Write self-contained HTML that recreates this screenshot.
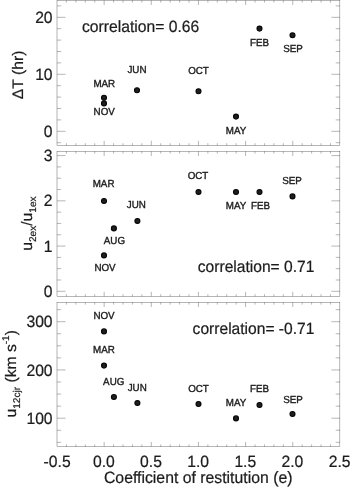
<!DOCTYPE html>
<html><head><meta charset="utf-8"><title>Correlation plots</title>
<style>
html,body{margin:0;padding:0;background:#fff;}
body{width:350px;height:487px;overflow:hidden;}
#wrap{width:350px;height:487px;will-change:transform;}
svg{display:block;}
text{text-rendering:geometricPrecision;font-family:"Liberation Sans",Arial,Helvetica,sans-serif;fill:#1c1c1c;stroke:#1c1c1c;stroke-width:0.22px;}
.t15{font-size:15.7px;}
.lab{font-size:9.8px;text-anchor:middle;stroke-width:0.36px;}
.yt{font-size:15.7px;text-anchor:end;}
.xt{font-size:15.7px;text-anchor:middle;}
.fr{fill:none;stroke:#000;stroke-width:0.29;}
.tk{fill:none;stroke:#000;stroke-width:0.29;}
.dot{fill:#1e1e1e;stroke:#060606;stroke-width:1.1px;}
</style></head><body><div id="wrap">
<svg width="350" height="487" viewBox="0 0 350 487">
<rect class="fr" x="57.0" y="0.4" width="282.90" height="145.00"/>
<path class="tk" d="M66.43 145.4v-2.2M66.43 0.4v2.2M75.86 145.4v-2.2M75.86 0.4v2.2M85.29 145.4v-2.2M85.29 0.4v2.2M94.72 145.4v-2.2M94.72 0.4v2.2M104.15 145.4v-4.6M104.15 0.4v4.6M113.58 145.4v-2.2M113.58 0.4v2.2M123.01 145.4v-2.2M123.01 0.4v2.2M132.44 145.4v-2.2M132.44 0.4v2.2M141.87 145.4v-2.2M141.87 0.4v2.2M151.30 145.4v-4.6M151.30 0.4v4.6M160.73 145.4v-2.2M160.73 0.4v2.2M170.16 145.4v-2.2M170.16 0.4v2.2M179.59 145.4v-2.2M179.59 0.4v2.2M189.02 145.4v-2.2M189.02 0.4v2.2M198.45 145.4v-4.6M198.45 0.4v4.6M207.88 145.4v-2.2M207.88 0.4v2.2M217.31 145.4v-2.2M217.31 0.4v2.2M226.74 145.4v-2.2M226.74 0.4v2.2M236.17 145.4v-2.2M236.17 0.4v2.2M245.60 145.4v-4.6M245.60 0.4v4.6M255.03 145.4v-2.2M255.03 0.4v2.2M264.46 145.4v-2.2M264.46 0.4v2.2M273.89 145.4v-2.2M273.89 0.4v2.2M283.32 145.4v-2.2M283.32 0.4v2.2M292.75 145.4v-4.6M292.75 0.4v4.6M302.18 145.4v-2.2M302.18 0.4v2.2M311.61 145.4v-2.2M311.61 0.4v2.2M321.04 145.4v-2.2M321.04 0.4v2.2M330.47 145.4v-2.2M330.47 0.4v2.2M57.0 131.30h8.5M339.9 131.30h-8.5M57.0 74.30h8.5M339.9 74.30h-8.5M57.0 17.30h8.5M339.9 17.30h-8.5M57.0 142.70h4.2M339.9 142.70h-4.2M57.0 119.90h4.2M339.9 119.90h-4.2M57.0 108.50h4.2M339.9 108.50h-4.2M57.0 97.10h4.2M339.9 97.10h-4.2M57.0 85.70h4.2M339.9 85.70h-4.2M57.0 62.90h4.2M339.9 62.90h-4.2M57.0 51.50h4.2M339.9 51.50h-4.2M57.0 40.10h4.2M339.9 40.10h-4.2M57.0 28.70h4.2M339.9 28.70h-4.2M57.0 5.90h4.2M339.9 5.90h-4.2"/>
<text class="yt" transform="translate(52.6,136.9) scale(1,1.04)">0</text>
<text class="yt" transform="translate(52.6,79.9) scale(1,1.04)">10</text>
<text class="yt" transform="translate(52.6,22.9) scale(1,1.04)">20</text>
<rect class="fr" x="57.0" y="151.4" width="282.90" height="145.00"/>
<path class="tk" d="M66.43 296.4v-2.2M66.43 151.4v2.2M75.86 296.4v-2.2M75.86 151.4v2.2M85.29 296.4v-2.2M85.29 151.4v2.2M94.72 296.4v-2.2M94.72 151.4v2.2M104.15 296.4v-4.6M104.15 151.4v4.6M113.58 296.4v-2.2M113.58 151.4v2.2M123.01 296.4v-2.2M123.01 151.4v2.2M132.44 296.4v-2.2M132.44 151.4v2.2M141.87 296.4v-2.2M141.87 151.4v2.2M151.30 296.4v-4.6M151.30 151.4v4.6M160.73 296.4v-2.2M160.73 151.4v2.2M170.16 296.4v-2.2M170.16 151.4v2.2M179.59 296.4v-2.2M179.59 151.4v2.2M189.02 296.4v-2.2M189.02 151.4v2.2M198.45 296.4v-4.6M198.45 151.4v4.6M207.88 296.4v-2.2M207.88 151.4v2.2M217.31 296.4v-2.2M217.31 151.4v2.2M226.74 296.4v-2.2M226.74 151.4v2.2M236.17 296.4v-2.2M236.17 151.4v2.2M245.60 296.4v-4.6M245.60 151.4v4.6M255.03 296.4v-2.2M255.03 151.4v2.2M264.46 296.4v-2.2M264.46 151.4v2.2M273.89 296.4v-2.2M273.89 151.4v2.2M283.32 296.4v-2.2M283.32 151.4v2.2M292.75 296.4v-4.6M292.75 151.4v4.6M302.18 296.4v-2.2M302.18 151.4v2.2M311.61 296.4v-2.2M311.61 151.4v2.2M321.04 296.4v-2.2M321.04 151.4v2.2M330.47 296.4v-2.2M330.47 151.4v2.2M57.0 291.30h8.5M339.9 291.30h-8.5M57.0 246.07h8.5M339.9 246.07h-8.5M57.0 200.83h8.5M339.9 200.83h-8.5M57.0 155.60h8.5M339.9 155.60h-8.5M57.0 279.99h4.2M339.9 279.99h-4.2M57.0 268.68h4.2M339.9 268.68h-4.2M57.0 257.38h4.2M339.9 257.38h-4.2M57.0 234.76h4.2M339.9 234.76h-4.2M57.0 223.45h4.2M339.9 223.45h-4.2M57.0 212.14h4.2M339.9 212.14h-4.2M57.0 189.52h4.2M339.9 189.52h-4.2M57.0 178.22h4.2M339.9 178.22h-4.2M57.0 166.91h4.2M339.9 166.91h-4.2"/>
<text class="yt" transform="translate(52.6,296.9) scale(1,1.04)">0</text>
<text class="yt" transform="translate(52.6,251.7) scale(1,1.04)">1</text>
<text class="yt" transform="translate(52.6,206.4) scale(1,1.04)">2</text>
<text class="yt" transform="translate(52.6,161.2) scale(1,1.04)">3</text>
<rect class="fr" x="57.0" y="302.4" width="282.90" height="144.20"/>
<path class="tk" d="M66.43 446.6v-2.2M66.43 302.4v2.2M75.86 446.6v-2.2M75.86 302.4v2.2M85.29 446.6v-2.2M85.29 302.4v2.2M94.72 446.6v-2.2M94.72 302.4v2.2M104.15 446.6v-4.6M104.15 302.4v4.6M113.58 446.6v-2.2M113.58 302.4v2.2M123.01 446.6v-2.2M123.01 302.4v2.2M132.44 446.6v-2.2M132.44 302.4v2.2M141.87 446.6v-2.2M141.87 302.4v2.2M151.30 446.6v-4.6M151.30 302.4v4.6M160.73 446.6v-2.2M160.73 302.4v2.2M170.16 446.6v-2.2M170.16 302.4v2.2M179.59 446.6v-2.2M179.59 302.4v2.2M189.02 446.6v-2.2M189.02 302.4v2.2M198.45 446.6v-4.6M198.45 302.4v4.6M207.88 446.6v-2.2M207.88 302.4v2.2M217.31 446.6v-2.2M217.31 302.4v2.2M226.74 446.6v-2.2M226.74 302.4v2.2M236.17 446.6v-2.2M236.17 302.4v2.2M245.60 446.6v-4.6M245.60 302.4v4.6M255.03 446.6v-2.2M255.03 302.4v2.2M264.46 446.6v-2.2M264.46 302.4v2.2M273.89 446.6v-2.2M273.89 302.4v2.2M283.32 446.6v-2.2M283.32 302.4v2.2M292.75 446.6v-4.6M292.75 302.4v4.6M302.18 446.6v-2.2M302.18 302.4v2.2M311.61 446.6v-2.2M311.61 302.4v2.2M321.04 446.6v-2.2M321.04 302.4v2.2M330.47 446.6v-2.2M330.47 302.4v2.2M57.0 418.20h8.5M339.9 418.20h-8.5M57.0 369.95h8.5M339.9 369.95h-8.5M57.0 321.70h8.5M339.9 321.70h-8.5M57.0 442.32h4.2M339.9 442.32h-4.2M57.0 430.26h4.2M339.9 430.26h-4.2M57.0 406.14h4.2M339.9 406.14h-4.2M57.0 394.07h4.2M339.9 394.07h-4.2M57.0 382.01h4.2M339.9 382.01h-4.2M57.0 357.89h4.2M339.9 357.89h-4.2M57.0 345.82h4.2M339.9 345.82h-4.2M57.0 333.76h4.2M339.9 333.76h-4.2M57.0 309.64h4.2M339.9 309.64h-4.2"/>
<text class="yt" transform="translate(52.6,423.8) scale(1,1.04)">100</text>
<text class="yt" transform="translate(52.6,375.6) scale(1,1.04)">200</text>
<text class="yt" transform="translate(52.6,327.3) scale(1,1.04)">300</text>
<text class="xt" transform="translate(57.1,467.3) scale(1,1.04)">-0.5</text>
<text class="xt" transform="translate(103.9,467.3) scale(1,1.04)">0.0</text>
<text class="xt" transform="translate(151.0,467.3) scale(1,1.04)">0.5</text>
<text class="xt" transform="translate(198.1,467.3) scale(1,1.04)">1.0</text>
<text class="xt" transform="translate(245.3,467.3) scale(1,1.04)">1.5</text>
<text class="xt" transform="translate(292.4,467.3) scale(1,1.04)">2.0</text>
<text class="xt" transform="translate(339.6,467.3) scale(1,1.04)">2.5</text>
<text class="t15" transform="translate(198.2,483.4) scale(1,1.04)" text-anchor="middle" style="font-size:15.8px">Coefficient of restitution (e)</text>
<text class="t15" transform="translate(23.4,74.9) rotate(-90) scale(1,0.97)" text-anchor="middle">ΔT (hr)</text>
<text class="t15" transform="translate(31.6,223.6) rotate(-90) scale(1,0.97)" text-anchor="middle">u<tspan font-size="10.1" dy="4.4">2ex</tspan><tspan dy="-4.4">/u</tspan><tspan font-size="10.1" dy="4.4">1ex</tspan></text>
<text class="t15" transform="translate(15.8,373.8) rotate(-90) scale(1,0.97)" text-anchor="middle">u<tspan font-size="10.1" dy="4.4">12cjr</tspan><tspan dy="-4.4"> (km s</tspan><tspan font-size="10.1" dy="-7.2">-1</tspan><tspan dy="7.2">)</tspan></text>
<text class="t15" transform="translate(82.0,31.6) scale(1,1.04)">correlation= 0.66</text>
<text class="t15" transform="translate(197.8,272.2) scale(1,1.04)" style="font-size:15.6px">correlation= 0.71</text>
<text class="t15" transform="translate(192.6,333.7) scale(1,1.04)" style="font-size:15.6px">correlation= -0.71</text>
<circle class="dot" cx="104" cy="97.8" r="2.5"/>
<text class="lab" transform="translate(104.3,86.9) scale(1,1.04)">MAR</text>
<circle class="dot" cx="104" cy="103.4" r="2.5"/>
<text class="lab" transform="translate(104.2,114.8) scale(1,1.04)">NOV</text>
<circle class="dot" cx="137" cy="90.2" r="2.5"/>
<text class="lab" transform="translate(137,73.2) scale(1,1.04)">JUN</text>
<circle class="dot" cx="198.5" cy="91.2" r="2.5"/>
<text class="lab" transform="translate(198.5,74.2) scale(1,1.04)">OCT</text>
<circle class="dot" cx="236" cy="116.6" r="2.5"/>
<text class="lab" transform="translate(236,133.6) scale(1,1.04)">MAY</text>
<circle class="dot" cx="259.5" cy="28.6" r="2.5"/>
<text class="lab" transform="translate(259.5,45.6) scale(1,1.04)">FEB</text>
<circle class="dot" cx="292.5" cy="35.2" r="2.5"/>
<text class="lab" transform="translate(293,52.2) scale(1,1.04)">SEP</text>
<circle class="dot" cx="104" cy="201.0" r="2.5"/>
<text class="lab" transform="translate(103.6,187.2) scale(1,1.04)">MAR</text>
<circle class="dot" cx="137.4" cy="221.0" r="2.5"/>
<text class="lab" transform="translate(136.4,207.6) scale(1,1.04)">JUN</text>
<circle class="dot" cx="113.9" cy="228.4" r="2.5"/>
<text class="lab" transform="translate(114.4,244.0) scale(1,1.04)">AUG</text>
<circle class="dot" cx="104" cy="255.4" r="2.5"/>
<text class="lab" transform="translate(105,270.6) scale(1,1.04)">NOV</text>
<circle class="dot" cx="198.5" cy="192.0" r="2.5"/>
<text class="lab" transform="translate(198,179.0) scale(1,1.04)">OCT</text>
<circle class="dot" cx="236" cy="192.0" r="2.5"/>
<text class="lab" transform="translate(236,209.0) scale(1,1.04)">MAY</text>
<circle class="dot" cx="259.5" cy="192.0" r="2.5"/>
<text class="lab" transform="translate(260.5,209.0) scale(1,1.04)">FEB</text>
<circle class="dot" cx="292.5" cy="196.4" r="2.5"/>
<text class="lab" transform="translate(292,183.6) scale(1,1.04)">SEP</text>
<circle class="dot" cx="104" cy="331.4" r="2.5"/>
<text class="lab" transform="translate(104,319.0) scale(1,1.04)">NOV</text>
<circle class="dot" cx="104" cy="365.6" r="2.5"/>
<text class="lab" transform="translate(104,353.4) scale(1,1.04)">MAR</text>
<circle class="dot" cx="113.9" cy="397.0" r="2.5"/>
<text class="lab" transform="translate(113.7,385.0) scale(1,1.04)">AUG</text>
<circle class="dot" cx="137.4" cy="403.0" r="2.5"/>
<text class="lab" transform="translate(137.2,390.8) scale(1,1.04)">JUN</text>
<circle class="dot" cx="198.5" cy="404.0" r="2.5"/>
<text class="lab" transform="translate(198.5,391.6) scale(1,1.04)">OCT</text>
<circle class="dot" cx="236" cy="418.4" r="2.5"/>
<text class="lab" transform="translate(236,406.0) scale(1,1.04)">MAY</text>
<circle class="dot" cx="259.5" cy="405.0" r="2.5"/>
<text class="lab" transform="translate(259.5,392.0) scale(1,1.04)">FEB</text>
<circle class="dot" cx="292.5" cy="414.0" r="2.5"/>
<text class="lab" transform="translate(293,402.6) scale(1,1.04)">SEP</text>
</svg></div></body></html>
